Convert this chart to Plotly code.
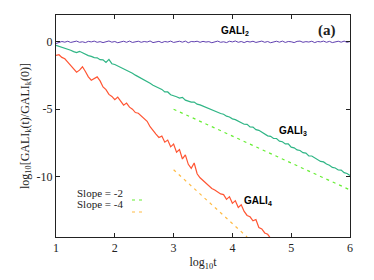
import plotly.graph_objects as go

# ---- data ----
gali2_y = [-0.12, -0.04, 0.03, -0.02, 0.05, -0.04, 0.02, 0.06, -0.03, 0.01, -0.05, 0.04, 0.00, 0.06, -0.03,
           0.02, -0.05, 0.03, 0.07, -0.02, 0.03, -0.06, 0.01, 0.05, -0.03, 0.06, -0.04, 0.01, 0.05, -0.03,
           0.03, -0.01, 0.07, -0.05, 0.02, 0.04, -0.05, 0.03, -0.01, 0.06, -0.04, 0.01, 0.05, -0.02, 0.06,
           -0.06, 0.03, 0.01, 0.05, -0.03, 0.04, -0.01, 0.02, -0.06, 0.03, 0.06, -0.03, 0.01, -0.05, 0.05,
           0.00, 0.07, -0.03, 0.03, -0.05, 0.04, -0.01, 0.05, -0.04, 0.02, 0.06, -0.03, 0.03, -0.06, 0.01,
           0.05, -0.02, 0.06, -0.04, 0.03, 0.01, -0.05, 0.04, 0.06, -0.03, 0.02, -0.01, 0.05, -0.05, 0.03,
           0.00, 0.06, -0.03, 0.04, -0.05, 0.01, 0.05, -0.02, 0.06, -0.03, 0.03]

gali3_y = [-0.25, -0.32, -0.38, -0.47, -0.53, -0.62, -0.72, -0.80, -0.70, -0.82, -0.93, -1.02, -1.08, -1.17,
           -1.18, -1.32, -1.33, -1.52, -1.30, -1.62, -1.68, -1.78, -1.88, -2.02, -2.08, -2.22, -2.33, -2.47,
           -2.58, -2.72, -2.83, -2.97, -3.08, -3.22, -3.33, -3.47, -3.53, -3.72, -3.72, -3.93, -3.98, -4.08,
           -4.18, -4.12, -4.33, -4.38, -4.48, -4.47, -4.63, -4.68, -4.78, -4.88, -4.97, -5.03, -5.13, -5.22,
           -5.32, -5.38, -5.52, -5.58, -5.72, -5.78, -5.88, -5.98, -6.12, -6.13, -6.32, -6.33, -6.52, -6.57,
           -6.72, -6.82, -6.98, -7.02, -7.18, -7.18, -7.38, -7.42, -7.58, -7.57, -7.82, -7.87, -8.03, -8.07,
           -8.23, -8.27, -8.47, -8.48, -8.63, -8.72, -8.88, -8.92, -9.08, -9.17, -9.33, -9.37, -9.52, -9.53,
           -9.72, -9.78, -9.92]

gali4_y = [-1.0, -0.95, -1.15, -1.25, -1.5, -1.75, -2.0, -2.25, -2.1, -1.85, -2.2, -2.6, -2.85, -2.75, -2.6,
           -2.9, -3.35, -3.55, -3.9, -4.05, -4.3, -4.1, -4.45, -4.7, -4.55, -4.85, -5.0, -5.25, -5.3, -5.5,
           -5.65, -5.9, -6.3, -6.6, -6.85, -7.1, -7.0, -7.45, -7.3, -7.8, -7.6, -8.2, -8.0, -8.7, -8.4, -9.1,
           -9.4, -9.0, -9.8, -10.1, -10.3, -10.5, -10.7, -10.9, -11.0, -11.15, -11.3, -11.35, -11.7, -11.5,
           -12.0, -11.8, -12.3, -12.1, -12.6, -12.9, -13.0, -13.3, -13.2, -13.8, -13.9, -14.2, -14.3, -14.6]

slope2_x = [3.0, 6.0]
slope2_y = [-5.0, -11.0]
slope4_x = [3.0, 4.25]
slope4_y = [-9.5, -14.5]

x_ticks = [1, 2, 3, 4, 5, 6]
y_ticks = [0, -5, -10]


def grid(start, step, n):
    return [round(start + step * i, 4) for i in range(n)]


gali2_x = grid(1.0, 5.0 / (len(gali2_y) - 1), len(gali2_y))
gali3_x = grid(1.0, 5.0 / (len(gali3_y) - 1), len(gali3_y))
gali4_x = grid(1.0, 0.05, len(gali4_y))

C2 = "#6040b0"
C3 = "#2fb585"
C4 = "#ff5533"
CS2 = "#66ee33"
CS4 = "#ffbb44"

fig = go.Figure()
fig.add_trace(go.Scatter(x=gali2_x, y=gali2_y, mode="lines", line=dict(color=C2, width=1.0)))
fig.add_trace(go.Scatter(x=gali3_x, y=gali3_y, mode="lines", line=dict(color=C3, width=1.2)))
fig.add_trace(go.Scatter(x=gali4_x, y=gali4_y, mode="lines", line=dict(color=C4, width=1.2)))
fig.add_trace(go.Scatter(x=slope2_x, y=slope2_y, mode="lines",
                         line=dict(color=CS2, width=1.2, dash="3px,4px")))
fig.add_trace(go.Scatter(x=slope4_x, y=slope4_y, mode="lines",
                         line=dict(color=CS4, width=1.2, dash="3px,4px")))

serif = "Liberation Serif"
sans = "Liberation Sans"

axis_common = dict(showgrid=False, zeroline=False, showline=True, linecolor="#222222", linewidth=1,
                   mirror="ticks", ticks="inside", ticklen=4, tickcolor="#222222", automargin=False,
                   tickfont=dict(family=serif, size=12, color="#222222"))

# the page body adds an 8px offset; the figure is sized so the plot box lands at x 56-350, y 15-237
fig.update_layout(
    width=366, height=272,
    margin=dict(l=48, r=24, t=7, b=43),
    paper_bgcolor="white", plot_bgcolor="white",
    showlegend=False,
    font=dict(family=serif),
    xaxis=dict(range=[1, 6], tickvals=x_ticks, ticktext=[str(v) for v in x_ticks],
               title=dict(text="log<sub>10</sub>t", font=dict(family=serif, size=12, color="#222222"),
                          standoff=3),
               **axis_common),
    yaxis=dict(range=[-14.5, 2], tickvals=y_ticks, ticktext=[str(v) for v in y_ticks],
               title=dict(text="log<sub>10</sub>[GALI<sub>k</sub>(t)/GALI<sub>k</sub>(0)]",
                          font=dict(family=serif, size=12, color="#222222"), standoff=4),
               **axis_common),
)

fig.add_annotation(x=4.04, y=0.8, text="<b>GALI<sub>2</sub></b>", showarrow=False,
                   font=dict(family=sans, size=10, color="black"))
fig.add_annotation(x=5.03, y=-6.6, text="<b>GALI<sub>3</sub></b>", showarrow=False,
                   font=dict(family=sans, size=10, color="black"))
fig.add_annotation(x=4.44, y=-11.8, text="<b>GALI<sub>4</sub></b>", showarrow=False,
                   font=dict(family=sans, size=10, color="black"))
fig.add_annotation(x=5.61, y=0.85, text="<b>(a)</b>", showarrow=False,
                   font=dict(family=serif, size=15, color="#222222"))

# legend (gnuplot style: text then sample)
fig.add_annotation(xref="paper", yref="paper", x=(125 - 56) / 294, y=(237 - 201) / 222,
                   xanchor="right", text="Slope = -2", showarrow=False,
                   font=dict(family=serif, size=11, color="#222222"))
fig.add_annotation(xref="paper", yref="paper", x=(125 - 56) / 294, y=(237 - 212) / 222,
                   xanchor="right", text="Slope = -4", showarrow=False,
                   font=dict(family=serif, size=11, color="#222222"))
fig.add_shape(type="line", xref="paper", yref="paper", x0=(132 - 56) / 294, x1=(145 - 56) / 294,
              y0=(237 - 200) / 222, y1=(237 - 200) / 222, line=dict(color=CS2, width=1.2, dash="3px,4px"))
fig.add_shape(type="line", xref="paper", yref="paper", x0=(132 - 56) / 294, x1=(145 - 56) / 294,
              y0=(237 - 212) / 222, y1=(237 - 212) / 222, line=dict(color=CS4, width=1.2, dash="3px,4px"))

fig.write_html("out.html")
